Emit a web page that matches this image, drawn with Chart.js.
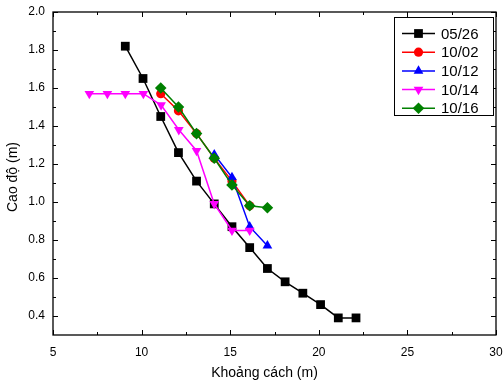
<!DOCTYPE html>
<html lang="vi"><head><meta charset="UTF-8"><title>Cao độ theo khoảng cách</title>
<style>
  html,body{margin:0;padding:0;background:#fff;}
  #wrap{width:503px;height:385px;}
</style>
<script src="https://cdn.jsdelivr.net/npm/chart.js"></script>
</head><body>
<div id="wrap"><canvas id="c" width="503" height="385"></canvas></div>
<script>
// data
const seriesLabels = ['05/26', '10/02', '10/12', '10/14', '10/16'];

const x0526 = [9.08, 10.08, 11.08, 12.08, 13.1, 14.1, 15.1, 16.1, 17.1, 18.1, 19.1, 20.1, 21.1, 22.1];
const y0526 = [1.82, 1.65, 1.45, 1.26, 1.11, 0.99, 0.87, 0.76, 0.65, 0.58, 0.52, 0.46, 0.39, 0.39];

const x1002 = [11.08, 12.08, 13.1, 14.1, 15.1, 16.1];
const y1002 = [1.57, 1.48, 1.36, 1.23, 1.11, 0.98];

const x1012 = [14.1, 15.1, 16.1, 17.1];
const y1012 = [1.25, 1.13, 0.87, 0.77];

const x1014 = [7.05, 8.07, 9.08, 10.1, 11.1, 12.1, 13.1, 14.1, 15.1, 16.1];
const y1014 = [1.57, 1.57, 1.57, 1.57, 1.51, 1.38, 1.27, 0.99, 0.85, 0.85];

const x1016 = [11.08, 12.08, 13.1, 14.1, 15.1, 16.1, 17.1];
const y1016 = [1.60, 1.50, 1.36, 1.23, 1.09, 0.98, 0.97];

const xTicks = [5, 10, 15, 20, 25, 30];
const yTicks = [0.4, 0.6, 0.8, 1.0, 1.2, 1.4, 1.6, 1.8, 2.0];

const xTitle = 'Khoảng cách (m)';
const yTitle = 'Cao độ (m)';

const pts = (xs, ys) => xs.map((x, i) => ({ x, y: ys[i] }));

const styles = [
  { color: '#000000', pointStyle: 'rect',     radius: 6.2, rotation: 0 },
  { color: '#ff0000', pointStyle: 'circle',   radius: 4.6, rotation: 0 },
  { color: '#0000ff', pointStyle: 'triangle', radius: 5.6, rotation: 0 },
  { color: '#ff00ff', pointStyle: 'triangle', radius: 5.6, rotation: 180 },
  { color: '#008000', pointStyle: 'rectRot',  radius: 5.8, rotation: 0 }
];
const allData = [pts(x0526, y0526), pts(x1002, y1002), pts(x1012, y1012), pts(x1014, y1014), pts(x1016, y1016)];

const datasets = allData.map((d, i) => ({
  label: seriesLabels[i],
  data: d,
  borderColor: styles[i].color,
  backgroundColor: styles[i].color,
  borderWidth: 1.5,
  pointStyle: styles[i].pointStyle,
  pointRadius: styles[i].radius,
  pointRotation: styles[i].rotation,
  pointBorderWidth: 0,
  showLine: true,
  tension: 0,
  order: seriesLabels.length - i
}));

const FONT = '"Liberation Sans", Arial, sans-serif';

// frame, inward ticks, axis titles and boxed legend in the Origin look
const originLook = {
  id: 'originLook',
  afterDatasetsDraw(chart) {
    const { ctx, chartArea: a, scales } = chart;
    const xs = scales.x, ys = scales.y;
    ctx.save();
    ctx.strokeStyle = '#000';
    ctx.lineWidth = 1.3;
    ctx.strokeRect(a.left, a.top, a.right - a.left, a.bottom - a.top);

    ctx.lineWidth = 1;
    ctx.beginPath();
    for (let v = 5; v <= 30.001; v += 2.5) {
      const p = Math.round(xs.getPixelForValue(v)) + 0.5;
      const len = (Math.abs(v % 5) < 0.01) ? 5 : 3;
      ctx.moveTo(p, a.bottom); ctx.lineTo(p, a.bottom - len);
      ctx.moveTo(p, a.top); ctx.lineTo(p, a.top + len);
    }
    for (let k = 4; k <= 20; k++) {
      const v = k / 10;
      const p = Math.round(ys.getPixelForValue(v)) + 0.5;
      const len = (k % 2 === 0) ? 5 : 3;
      ctx.moveTo(a.left, p); ctx.lineTo(a.left + len, p);
      ctx.moveTo(a.right, p); ctx.lineTo(a.right - len, p);
    }
    ctx.stroke();

    // axis titles
    ctx.fillStyle = '#000';
    ctx.font = '14px ' + FONT;
    ctx.textAlign = 'center';
    ctx.textBaseline = 'middle';
    ctx.fillText(xTitle, (a.left + a.right) / 2 - 10, 373);
    ctx.save();
    ctx.translate(13, 177);
    ctx.rotate(-Math.PI / 2);
    ctx.fillText(yTitle, 0, 0);
    ctx.restore();

    // legend box
    const lx = 394, ly = 17, lw = 99, lh = 98;
    ctx.fillStyle = '#fff';
    ctx.fillRect(lx, ly, lw, lh);
    ctx.strokeStyle = '#000';
    ctx.lineWidth = 1;
    ctx.strokeRect(lx + 0.5, ly + 0.5, lw, lh);
    ctx.font = '15px ' + FONT;
    ctx.textAlign = 'left';
    chart.data.datasets.forEach((ds, i) => {
      const cy = 33.5 + i * 18.7;
      ctx.strokeStyle = ds.borderColor;
      ctx.lineWidth = 1.5;
      ctx.beginPath();
      ctx.moveTo(402, cy); ctx.lineTo(435, cy);
      ctx.stroke();
      ctx.fillStyle = ds.backgroundColor;
      Chart.helpers.drawPoint(ctx, {
        pointStyle: ds.pointStyle, rotation: ds.pointRotation,
        radius: ds.pointRadius, borderWidth: 0
      }, 418.5, cy);
      ctx.fillStyle = '#000';
      ctx.fillText(ds.label, 441, cy + 1);
    });
    ctx.restore();
  }
};

new Chart(document.getElementById('c'), {
  type: 'scatter',
  data: { datasets },
  options: {
    responsive: false,
    animation: false,
    layout: { padding: { top: 12, right: 7, left: 0, bottom: 0 } },
    plugins: { legend: { display: false }, tooltip: { enabled: false } },
    scales: {
      x: {
        type: 'linear', min: 5, max: 30,
        afterBuildTicks: s => { s.ticks = xTicks.map(v => ({ value: v })); },
        afterFit: s => { s.height = 50; s.paddingLeft = 0; s.paddingRight = 0; },
        grid: { display: false, drawTicks: false },
        border: { display: false },
        ticks: { color: '#000', font: { family: FONT, size: 12 }, padding: 10,
                 maxRotation: 0 }
      },
      y: {
        type: 'linear', min: 0.3, max: 2.0,
        afterBuildTicks: s => { s.ticks = yTicks.map(v => ({ value: v })); },
        afterFit: s => { s.width = 53; s.paddingTop = 0; s.paddingBottom = 0; },
        grid: { display: false, drawTicks: false },
        border: { display: false },
        ticks: { color: '#000', font: { family: FONT, size: 12 }, padding: 8,
                 callback: v => v.toFixed(1) }
      }
    }
  },
  plugins: [originLook]
});
</script>
</body></html>
